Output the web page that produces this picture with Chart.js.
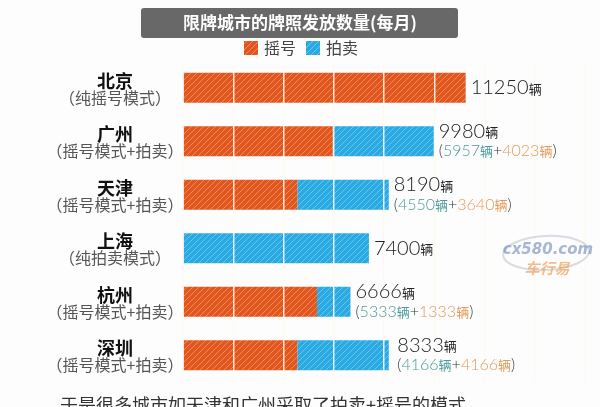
<!DOCTYPE html>
<html>
<head>
<meta charset="utf-8">
<script src="https://cdn.jsdelivr.net/npm/chart.js@4/dist/chart.umd.min.js"></script>
<style>
  html, body { margin: 0; padding: 0; background: #fdfdfd; }
  #wrap { width: 600px; height: 407px; }
</style>
</head>
<body>
<div id="wrap"><canvas id="myChart" width="600" height="407"></canvas></div>
<script>
// Данные
const cities = ['北京', '广州', '天津', '上海', '杭州', '深圳'];
const modes = ['（纯摇号模式）', '（摇号模式+拍卖）', '（摇号模式+拍卖）', '（纯拍卖模式）', '（摇号模式+拍卖）', '（摇号模式+拍卖）'];
// длина полос, как на картинке
const lotteryBar = [11250, 5957, 4550, 0, 5333, 4550];   // 摇号
const auctionBar = [0, 4023, 3640, 7400, 1333, 3640];    // 拍卖
// подписи справа
const totals = [11250, 9980, 8190, 7400, 6666, 8333];
const splitA = [null, 5957, 4550, null, 5333, 4166];
const splitB = [null, 4023, 3640, null, 1333, 4166];
const seriesNames = ['摇号', '拍卖'];

const CJK = '"Noto Sans CJK SC", sans-serif';
const ORANGE = '#e2571d';
const BLUE = '#2aaae2';

// штриховка
function hatch(color) {
  const c = document.createElement('canvas');
  c.width = 6; c.height = 6;
  const g = c.getContext('2d');
  g.fillStyle = color;
  g.fillRect(0, 0, 6, 6);
  g.strokeStyle = 'rgba(255,255,255,0.3)';
  g.lineWidth = 1;
  g.beginPath();
  g.moveTo(0, 6); g.lineTo(6, 0);
  g.moveTo(-3, 3); g.lineTo(3, -3);
  g.moveTo(3, 9); g.lineTo(9, 3);
  g.stroke();
  return g.createPattern(c, 'repeat');
}
const orangeFill = hatch(ORANGE);
const blueFill = hatch(BLUE);

const decor = {
  id: 'decor',
  afterDraw(chart) {
    const ctx = chart.ctx;
    const xs = chart.scales.x, ys = chart.scales.y;
    ctx.save();

    // заголовок
    ctx.fillStyle = '#686868';
    ctx.beginPath();
    ctx.roundRect(141, 8, 317, 30, 3);
    ctx.fill();
    ctx.fillStyle = '#ffffff';
    ctx.font = 'bold 17px ' + CJK;
    ctx.textAlign = 'center';
    ctx.textBaseline = 'middle';
    ctx.fillText('限牌城市的牌照发放数量(每月)', 300, 23);

    // легенда
    ctx.textAlign = 'left';
    ctx.font = '16px ' + CJK;
    ctx.fillStyle = orangeFill;
    ctx.fillRect(244, 41, 14, 14);
    ctx.fillStyle = '#444';
    ctx.fillText(seriesNames[0], 264, 48);
    ctx.fillStyle = blueFill;
    ctx.fillRect(306, 41, 14, 14);
    ctx.fillStyle = '#444';
    ctx.fillText(seriesNames[1], 326, 48);

    cities.forEach((city, i) => {
      const cy = ys.getPixelForValue(i);
      // подписи слева
      ctx.textAlign = 'center';
      ctx.fillStyle = '#111';
      ctx.font = 'bold 18px ' + CJK;
      ctx.fillText(city, 115, cy - 7);
      ctx.fillStyle = '#555';
      ctx.font = '16px ' + CJK;
      ctx.fillText(modes[i], 115, cy + 10);

      // подписи справа
      ctx.textAlign = 'left';
      const x = xs.getPixelForValue(totals[i]) + 5;
      const two = splitA[i] !== null;
      const ny = two ? cy - 10 : cy;
      ctx.fillStyle = '#222';
      ctx.font = '300 20px Lato, ' + CJK;
      const num = String(totals[i]);
      ctx.fillText(num, x, ny);
      const w = ctx.measureText(num).width;
      ctx.font = '13px ' + CJK;
      ctx.fillText('辆', x + w, ny + 1);

      if (two) {
        const sy = cy + 10;
        const parts = [
          ['(', '#333', '300 16px Lato, ' + CJK],
          [String(splitA[i]), '#4f9a9c', '300 16px Lato, ' + CJK],
          ['辆', '#4f9a9c', '13px ' + CJK],
          ['+', '#333', '300 16px Lato, ' + CJK],
          [String(splitB[i]), '#e39a5c', '300 16px Lato, ' + CJK],
          ['辆', '#e39a5c', '13px ' + CJK],
          [')', '#333', '300 16px Lato, ' + CJK]
        ];
        let px = x;
        parts.forEach(([t, col, f]) => {
          ctx.font = f;
          ctx.fillStyle = col;
          ctx.fillText(t, px, sy);
          px += ctx.measureText(t).width;
        });
      }
    });

    // водяной знак
    ctx.strokeStyle = 'rgba(200,205,215,0.7)';
    ctx.lineWidth = 2;
    ctx.beginPath();
    ctx.ellipse(546, 253, 43, 17, -0.05, 0, Math.PI * 2);
    ctx.stroke();
    ctx.textAlign = 'center';
    ctx.fillStyle = 'rgba(110,135,185,0.6)';
    ctx.font = 'italic bold 15px "DejaVu Sans", sans-serif';
    ctx.fillText('cx580.com', 548, 250);
    ctx.fillStyle = 'rgba(240,160,90,0.7)';
    ctx.font = 'italic bold 15px ' + CJK;
    ctx.fillText('车行易', 547, 268);

    // текст снизу
    ctx.textAlign = 'left';
    ctx.fillStyle = '#333';
    ctx.font = '18px ' + CJK;
    ctx.fillText('于是很多城市如天津和广州采取了拍卖+摇号的模式。', 60, 405);

    ctx.restore();
  }
};

const ctx = document.getElementById('myChart').getContext('2d');
const chart = new Chart(ctx, {
  type: 'bar',
  data: {
    labels: cities,
    datasets: [{
      label: seriesNames[0],
      data: lotteryBar,
      backgroundColor: orangeFill,
      borderWidth: 0
    }, {
      label: seriesNames[1],
      data: auctionBar,
      backgroundColor: blueFill,
      borderWidth: 0
    }]
  },
  options: {
    indexAxis: 'y',
    responsive: false,
    animation: false,
    layout: { padding: { left: 183, right: 15, top: 61, bottom: 25 } },
    plugins: { legend: { display: false }, tooltip: { enabled: false } },
    datasets: { bar: { categoryPercentage: 1, barPercentage: 0.56 } },
    scales: {
      x: {
        stacked: true,
        min: 0,
        max: 16000,
        ticks: { display: false, stepSize: 2000 },
        border: { display: false },
        grid: { color: 'rgba(255,250,240,0.9)', lineWidth: 1.5, drawTicks: false, z: 1 }
      },
      y: { stacked: true, display: false }
    }
  },
  plugins: [decor]
});
</script>
</body>
</html>
